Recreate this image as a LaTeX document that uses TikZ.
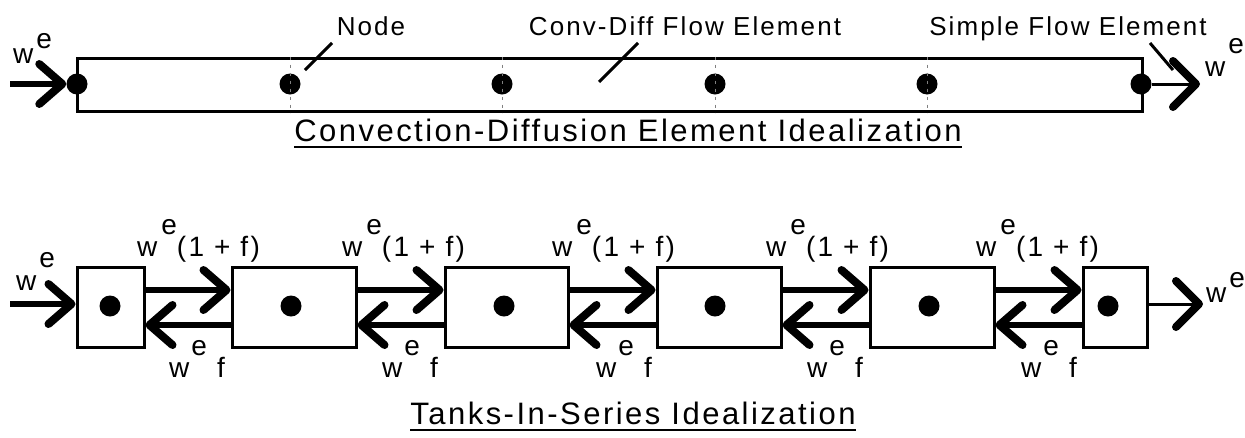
\documentclass[tikz,border=0pt]{standalone}
\usepackage{fontspec}
\setmainfont{Liberation Sans}[LetterSpace=8]
\usetikzlibrary{arrows.meta}
\begin{document}
\begin{tikzpicture}[x=1pt,y=-1pt,
  lbl/.style={font=\fontsize{26}{28}\selectfont, inner sep=0pt},
  wlbl/.style={font=\fontsize{28}{30}\selectfont, inner sep=0pt},
  ttl/.style={font=\fontsize{31}{33}\selectfont, inner sep=0pt},
  dot/.style={circle, fill=black, minimum size=21pt, inner sep=0pt},
  tank/.style={draw, line width=3pt, inner sep=0pt, minimum height=80pt},
  pipe/.style={draw, line width=3pt, inner sep=0pt},
  flow/.style={line width=6pt, -{Straight Barb[length=23pt,width=40pt,line width=8pt,round]}},
  thinflow/.style={line width=3pt, -{Straight Barb[length=23pt,width=46pt,line width=8pt,round]}},
  leader/.style={line width=3pt},
  nodeline/.style={line width=1pt, gray, dash pattern=on 3pt off 5pt},
  uline/.style={line width=2pt}]
\useasboundingbox (0,0) rectangle (1245,437);

% ---------- Convection-diffusion idealization ----------
\node[pipe, minimum width=1065pt, minimum height=53pt] (pipe) at (609.5,84.5) {};
\foreach \i/\x in {1/77,2/290,3/502,4/715,5/927,6/1141}
  \node[dot] (n\i) at (\x,84) {};
\foreach \i in {2,...,5}
  \draw[nodeline] (n\i |- pipe.north) -- (n\i |- pipe.south);

\coordinate (inT) at (10,84);
\coordinate (outT) at (1200,84);
\draw[flow] (inT) -- (n1);
\draw[thinflow] (n6) -- (outT);

\node[wlbl, anchor=base west] (weInT) at (13,63) {w\hspace{3pt}\raisebox{15pt}{e}};
\node[wlbl, anchor=base west] (weOutT) at (1205,76) {w\hspace{3pt}\raisebox{23pt}{e}};

\node[lbl, anchor=base] (nodeL) at (371,35) {Node};
\node[lbl, anchor=base] (convL) at (685,35) {Conv-Diff Flow Element};
\node[lbl, anchor=base] (simpL) at (1068,35) {Simple Flow Element};
\coordinate (l1a) at (332,43); \coordinate (l1b) at (305,70);
\coordinate (l2a) at (638,43); \coordinate (l2b) at (599,82);
\coordinate (l3a) at (1150,43); \coordinate (l3b) at (1173,70);
\draw[leader] (l1a) -- (l1b);
\draw[leader] (l2a) -- (l2b);
\draw[leader] (l3a) -- (l3b);

\node[ttl, anchor=base] (t1) at (628,141) {Convection-Diffusion Element Idealization};
\draw[uline] ([yshift=-6pt]t1.base west) -- ([yshift=-6pt]t1.base east);

% ---------- Tanks-in-series idealization ----------
\node[tank, minimum width=67pt]  (b1) at (110.5,307) {};
\node[tank, minimum width=124pt] (b2) at (294,307) {};
\node[tank, minimum width=123pt] (b3) at (506.5,307) {};
\node[tank, minimum width=124pt] (b4) at (719,307) {};
\node[tank, minimum width=124pt] (b5) at (932,307) {};
\node[tank, minimum width=64pt]  (b6) at (1115,307) {};
\foreach \i/\x in {1/110,2/291,3/504,4/715,5/929,6/1108}
  \node[dot, minimum size=21pt] (d\i) at (\x,306) {};

\foreach \i/\j in {1/2,2/3,3/4,4/5,5/6} {
  \draw[flow] ([yshift=17pt]b\i.east) -- ([yshift=17pt]b\j.west);
  \draw[flow] ([yshift=-18pt]b\j.west) -- ([yshift=-18pt]b\i.east);
}

\coordinate (inB) at (10,304);
\coordinate (outB) at (1203,304);
\draw[flow] (inB) -- (inB -| b1.west);
\draw[thinflow] (outB -| b6.east) -- (outB);

\node[wlbl, anchor=base west] (weInB) at (16,290) {w\hspace{3pt}\raisebox{23pt}{e}};
\node[wlbl, anchor=base west] (weOutB) at (1206,302) {w\hspace{3pt}\raisebox{15pt}{e}};

\foreach \k/\x in {1/137,2/342,3/552,4/766,5/976}
  \node[wlbl, anchor=base west] (fwd\k) at (\x,256) {w\hspace{4pt}\raisebox{22pt}{e}(1 + f)};
\foreach \k/\x in {1/169,2/382,3/596,4/807,5/1021}
  \node[wlbl, anchor=base west] (bwd\k) at (\x,377) {w\hspace{2pt}\raisebox{22pt}{e} f};

\node[ttl, anchor=base] (t2) at (633,424) {Tanks-In-Series Idealization};
\draw[uline] ([yshift=-6pt]t2.base west) -- ([yshift=-6pt]t2.base east);
\end{tikzpicture}
\end{document}
